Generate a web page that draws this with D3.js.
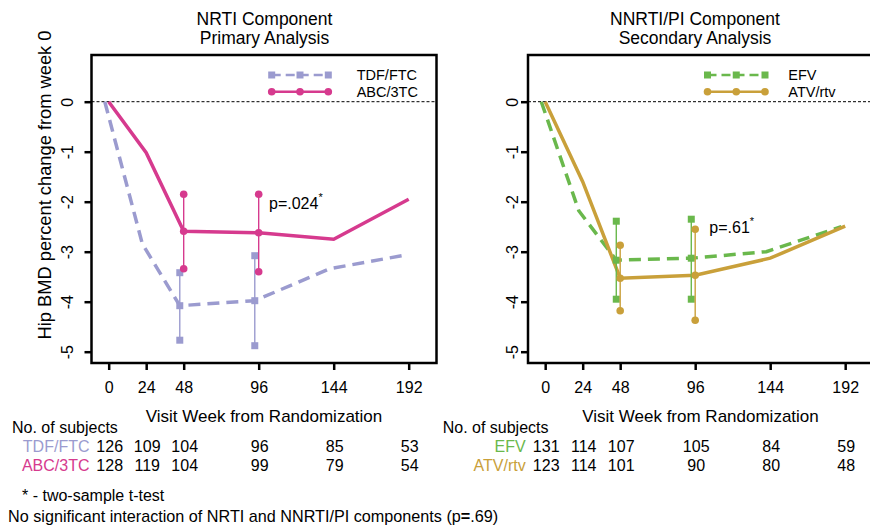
<!DOCTYPE html>
<html lang="en">
<head>
<meta charset="UTF-8">
<title>Hip BMD change</title>
<style>
body { margin: 0; background: #fff; }
svg { display: block; font-family: "Liberation Sans", Arial, sans-serif; }
.box { fill: none; stroke: #000; stroke-width: 2.5; }
.axis path { display: none; }
.axis line { stroke: #000; stroke-width: 2.5; }
.axis text { font-size: 16px; fill: #000; font-family: "Liberation Sans", Arial, sans-serif; }
.zero { stroke: #000; stroke-width: 1; stroke-dasharray: 3,2; }
</style>
</head>
<body>
<svg width="870" height="527"></svg>
<script src="https://d3js.org/d3.v7.min.js"></script>
<script>

// weeks on the x axis
const weeks = [0, 24, 48, 96, 144, 192];
const yTicks = [0, -1, -2, -3, -4, -5];

// mean percent change, NRTI component
const tdfMean = [0, -2.84, -4.08, -3.98, -3.34, -3.07];
const abcMean = [0, -1.02, -2.59, -2.62, -2.75, -1.95];
// mean percent change, NNRTI/PI component
const efvMean = [0, -2.18, -3.17, -3.13, -3.00, -2.50];
const atvMean = [0, -1.60, -3.53, -3.47, -3.13, -2.49];

// confidence intervals at week 48 and 96
const ciWeeks = [48, 96];
const tdfLo = [-4.77, -4.88], tdfHi = [-3.42, -3.08];
const abcLo = [-3.34, -3.40], abcHi = [-1.85, -1.85];
const efvLo = [-3.95, -3.95], efvHi = [-2.39, -2.35];
const atvLo = [-4.18, -4.37], atvHi = [-2.87, -2.55];

// number of subjects
const tdfN = [126, 109, 104, 96, 85, 53];
const abcN = [128, 119, 104, 99, 79, 54];
const efvN = [131, 114, 107, 105, 84, 59];
const atvN = [123, 114, 101, 90, 80, 48];

const svg = d3.select('svg');

const y = d3.scaleLinear().domain([0.934, -5.226]).range([55, 363]);

const panels = [
    {
        title: ['NRTI Component', 'Primary Analysis'],
        titleX: 264.5,
        range: [91.5, 436.5],
        tickOffset: 18.5,
        ylabel: true,
        pText: 'p=.024', pX: 269, pY: 209.3,
        legendX: [271.7, 328.3], legendTextX: 356.7,
        labelX: 89.5, tableHeadX: 12,
        groups: [
            { name: 'TDF/FTC', color: '#9b9bcf', dash: '12,7', shape: 'square', shift: -2.5,
              mean: tdfMean, lo: tdfLo, hi: tdfHi, n: tdfN },
            { name: 'ABC/3TC', color: '#d63a8e', dash: null, shape: 'circle', shift: 0,
              mean: abcMean, lo: abcLo, hi: abcHi, n: abcN }
        ]
    },
    {
        title: ['NNRTI/PI Component', 'Secondary Analysis'],
        titleX: 695,
        range: [528, 873],
        tickOffset: 10,
        ylabel: false,
        pText: 'p=.61', pX: 709.3, pY: 232.7,
        legendX: [707.5, 765], legendTextX: 788.3,
        labelX: 525.7, tableHeadX: 442.7,
        groups: [
            { name: 'EFV', color: '#6ab84c', dash: '12,7', shape: 'square', shift: -2.5,
              mean: efvMean, lo: efvLo, hi: efvHi, n: efvN },
            { name: 'ATV/rtv', color: '#c9a03a', dash: null, shape: 'circle', shift: 0,
              mean: atvMean, lo: atvLo, hi: atvHi, n: atvN }
        ]
    }
];

function marker(sel, shape, color, cx, cy) {
    if (shape === 'square') {
        sel.append('rect')
            .attr('x', cx - 3.5).attr('y', cy - 3.5)
            .attr('width', 7).attr('height', 7)
            .attr('fill', color);
    } else {
        sel.append('circle')
            .attr('cx', cx).attr('cy', cy).attr('r', 3.8)
            .attr('fill', color);
    }
}

panels.forEach(function(p) {
    const x = d3.scaleLinear().domain([-11, 209.8]).range(p.range);
    const g = svg.append('g');

    // title
    p.title.forEach(function(t, i) {
        g.append('text')
            .attr('x', p.titleX).attr('y', 24.5 + i * 19.5)
            .attr('text-anchor', 'middle')
            .attr('font-size', 17.5)
            .text(t);
    });

    // zero line
    g.append('line').attr('class', 'zero')
        .attr('x1', p.range[0]).attr('x2', p.range[1])
        .attr('y1', y(0)).attr('y2', y(0));

    // lines
    p.groups.forEach(function(grp) {
        const line = d3.line()
            .x((d, i) => x(weeks[i] + grp.shift))
            .y(d => y(d));
        g.append('path')
            .attr('d', line(grp.mean))
            .attr('fill', 'none')
            .attr('stroke', grp.color)
            .attr('stroke-width', 3.5)
            .attr('stroke-dasharray', grp.dash);
    });

    // confidence intervals
    p.groups.forEach(function(grp) {
        ciWeeks.forEach(function(w, i) {
            const cx = x(w + grp.shift);
            const mi = weeks.indexOf(w);
            g.append('line')
                .attr('x1', cx).attr('x2', cx)
                .attr('y1', y(grp.lo[i])).attr('y2', y(grp.hi[i]))
                .attr('stroke', grp.color).attr('stroke-width', 1.4);
            marker(g, grp.shape, grp.color, cx, y(grp.lo[i]));
            marker(g, grp.shape, grp.color, cx, y(grp.hi[i]));
            marker(g, grp.shape, grp.color, cx, y(grp.mean[mi]));
        });
    });

    // p value
    const pt = g.append('text')
        .attr('x', p.pX).attr('y', p.pY)
        .attr('font-size', 16)
        .text(p.pText);
    pt.append('tspan').attr('dy', -8).attr('font-size', 11).text('*');

    // legend
    p.groups.forEach(function(grp, i) {
        const ly = 75 + i * 16.7;
        g.append('line')
            .attr('x1', p.legendX[0]).attr('x2', p.legendX[1])
            .attr('y1', ly).attr('y2', ly)
            .attr('stroke', grp.color).attr('stroke-width', 2.5)
            .attr('stroke-dasharray', grp.dash ? '9,5' : null);
        const mid = (p.legendX[0] + p.legendX[1]) / 2;
        [p.legendX[0], mid, p.legendX[1]].forEach(function(lx) {
            marker(g, grp.shape, grp.color, lx, ly);
        });
        g.append('text')
            .attr('x', p.legendTextX).attr('y', ly + 5)
            .attr('font-size', 14.5)
            .text(grp.name);
    });

    // box
    g.append('rect').attr('class', 'box')
        .attr('x', p.range[0]).attr('y', 55)
        .attr('width', p.range[1] - p.range[0]).attr('height', 308);

    // x axis
    const xa = g.append('g').attr('class', 'axis')
        .attr('transform', 'translate(0,363)')
        .call(d3.axisBottom(x).tickValues(weeks).tickSize(7).tickFormat(d => String(d)));
    xa.selectAll('text').attr('y', 30).attr('dy', null);

    // y axis
    const ya = g.append('g').attr('class', 'axis')
        .attr('transform', `translate(${p.range[0]},0)`)
        .call(d3.axisLeft(y).tickValues(yTicks).tickSize(7).tickFormat(d => String(d)));
    ya.selectAll('text')
        .attr('x', null).attr('dy', null)
        .attr('text-anchor', 'middle')
        .attr('transform', `translate(${-p.tickOffset},0) rotate(-90)`);

    if (p.ylabel) {
        g.append('text')
            .attr('transform', 'translate(51,185) rotate(-90)')
            .attr('text-anchor', 'middle')
            .attr('font-size', 18.3)
            .text('Hip BMD percent change from week 0');
    }

    // x label
    g.append('text')
        .attr('x', (p.range[0] + p.range[1]) / 2).attr('y', 421.7)
        .attr('text-anchor', 'middle')
        .attr('font-size', 17)
        .text('Visit Week from Randomization');

    // subjects table
    g.append('text')
        .attr('x', p.tableHeadX).attr('y', 433.3)
        .attr('font-size', 16)
        .text('No. of subjects');
    p.groups.forEach(function(grp, i) {
        const ty = 452.3 + i * 18.5;
        g.append('text')
            .attr('x', p.labelX).attr('y', ty)
            .attr('text-anchor', 'end')
            .attr('font-size', 16)
            .attr('fill', grp.color)
            .text(grp.name);
        g.selectAll(null).data(grp.n).enter().append('text')
            .attr('x', (d, j) => x(weeks[j]) + 1)
            .attr('y', ty)
            .attr('text-anchor', 'middle')
            .attr('font-size', 16)
            .text(d => d);
    });
});

// footnotes
svg.append('text')
    .attr('x', 22).attr('y', 501)
    .attr('font-size', 16)
    .text('* - two-sample t-test');

const fn = svg.append('text')
    .attr('x', 8).attr('y', 522)
    .attr('font-size', 16.2)
    .text('No significant interaction of NRTI and NNRTI/PI components (p');
fn.append('tspan').attr('font-weight', 'bold').text('=');
fn.append('tspan').text('.69)');

</script>
</body>
</html>
